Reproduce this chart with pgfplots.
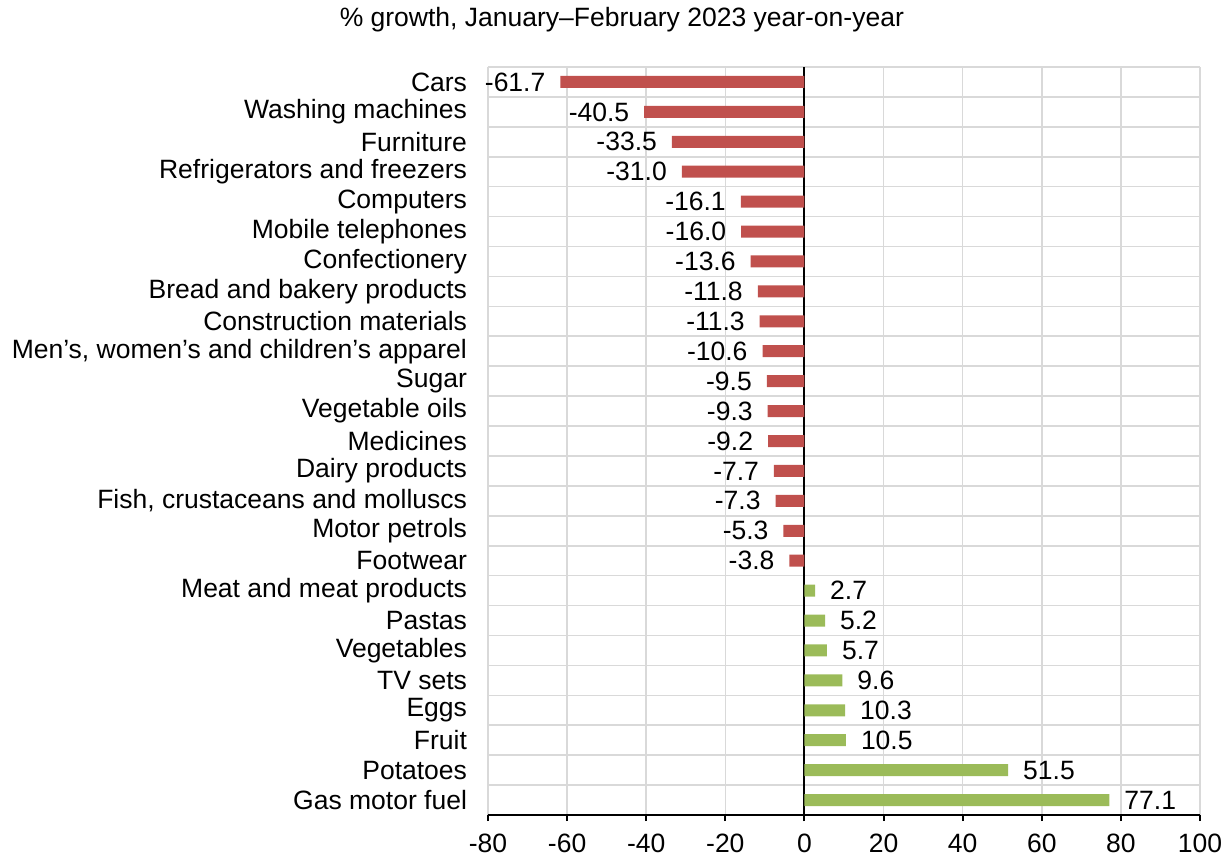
\documentclass[border=0pt]{standalone}
\usepackage{fontspec}
\setmainfont{Liberation Sans}
\usepackage{pgfplots}
\pgfplotsset{compat=1.18}
\definecolor{negred}{HTML}{C0504D}
\definecolor{posgreen}{HTML}{9BBB59}
\definecolor{gridgray}{HTML}{D9D9D9}
\newcommand{\lblfont}{\fontsize{13.3}{15}\selectfont}
\begin{document}
\begin{tikzpicture}
\begin{axis}[
  scale only axis, width=356bp, height=374bp,
  xmin=-80, xmax=100, ymin=-0.5, ymax=24.5, y dir=reverse,
  xbar, bar width=6bp, bar shift=0pt,
  axis x line*=bottom, axis y line*=left,
  y axis line style={draw=none},
  x axis line style={black, line width=1bp},
  xtick={-80,-60,...,100},
  ytick={0,...,24},
  minor ytick={-0.5,0.5,...,24.5},
  yticklabels={Cars,Washing machines,Furniture,Refrigerators and freezers,Computers,Mobile telephones,Confectionery,Bread and bakery products,Construction materials,{Men’s, women’s and children’s apparel},Sugar,Vegetable oils,Medicines,Dairy products,{Fish, crustaceans and molluscs},Motor petrols,Footwear,Meat and meat products,Pastas,Vegetables,TV sets,Eggs,Fruit,Potatoes,Gas motor fuel},
  xmajorgrids=true, ymajorgrids=false, yminorgrids=true,
  grid style={gridgray, line width=0.8bp},
  minor grid style={gridgray, line width=0.8bp},
  tick align=outside, major tick length=3bp, minor tick length=0pt,
  xtick style={black, line width=1bp},
  ytick style={draw=none},
  extra x ticks={0}, extra x tick labels={},
  extra x tick style={grid style={black, line width=1bp}, major tick length=3bp},
  tick label style={font=\lblfont, text=black},
  yticklabel style={xshift=-4bp},
  xticklabel style={yshift=-3bp},
  /pgf/number format/assume math mode=true,
  point meta=x,
  clip=false,
]
\addplot[fill=negred, draw=none, nodes near coords={\pgfmathprintnumber[fixed,fixed zerofill,precision=1,assume math mode=true]{\pgfplotspointmeta}}, nodes near coords style={anchor=east, xshift=-4bp, font=\lblfont, text=black}] coordinates {
(-61.7,0) (-40.5,1) (-33.5,2) (-31.0,3) (-16.1,4) (-16.0,5) (-13.6,6) (-11.8,7) (-11.3,8) (-10.6,9) (-9.5,10) (-9.3,11) (-9.2,12) (-7.7,13) (-7.3,14) (-5.3,15) (-3.8,16)
};
\addplot[fill=posgreen, draw=none, nodes near coords={\pgfmathprintnumber[fixed,fixed zerofill,precision=1,assume math mode=true]{\pgfplotspointmeta}}, nodes near coords style={anchor=west, xshift=4bp, font=\lblfont, text=black}] coordinates {
(2.7,17) (5.2,18) (5.7,19) (9.6,20) (10.3,21) (10.5,22) (51.5,23) (77.1,24)
};
\node[font=\lblfont, anchor=center] at (axis description cs:0.188,1.063) {\% growth, January–February 2023 year-on-year};
\end{axis}
\pgfresetboundingbox
\useasboundingbox ([shift={(-244bp,-21.5bp)}]current axis.south west) rectangle ([shift={(15.5bp,33.5bp)}]current axis.north east);
\end{tikzpicture}
\end{document}
